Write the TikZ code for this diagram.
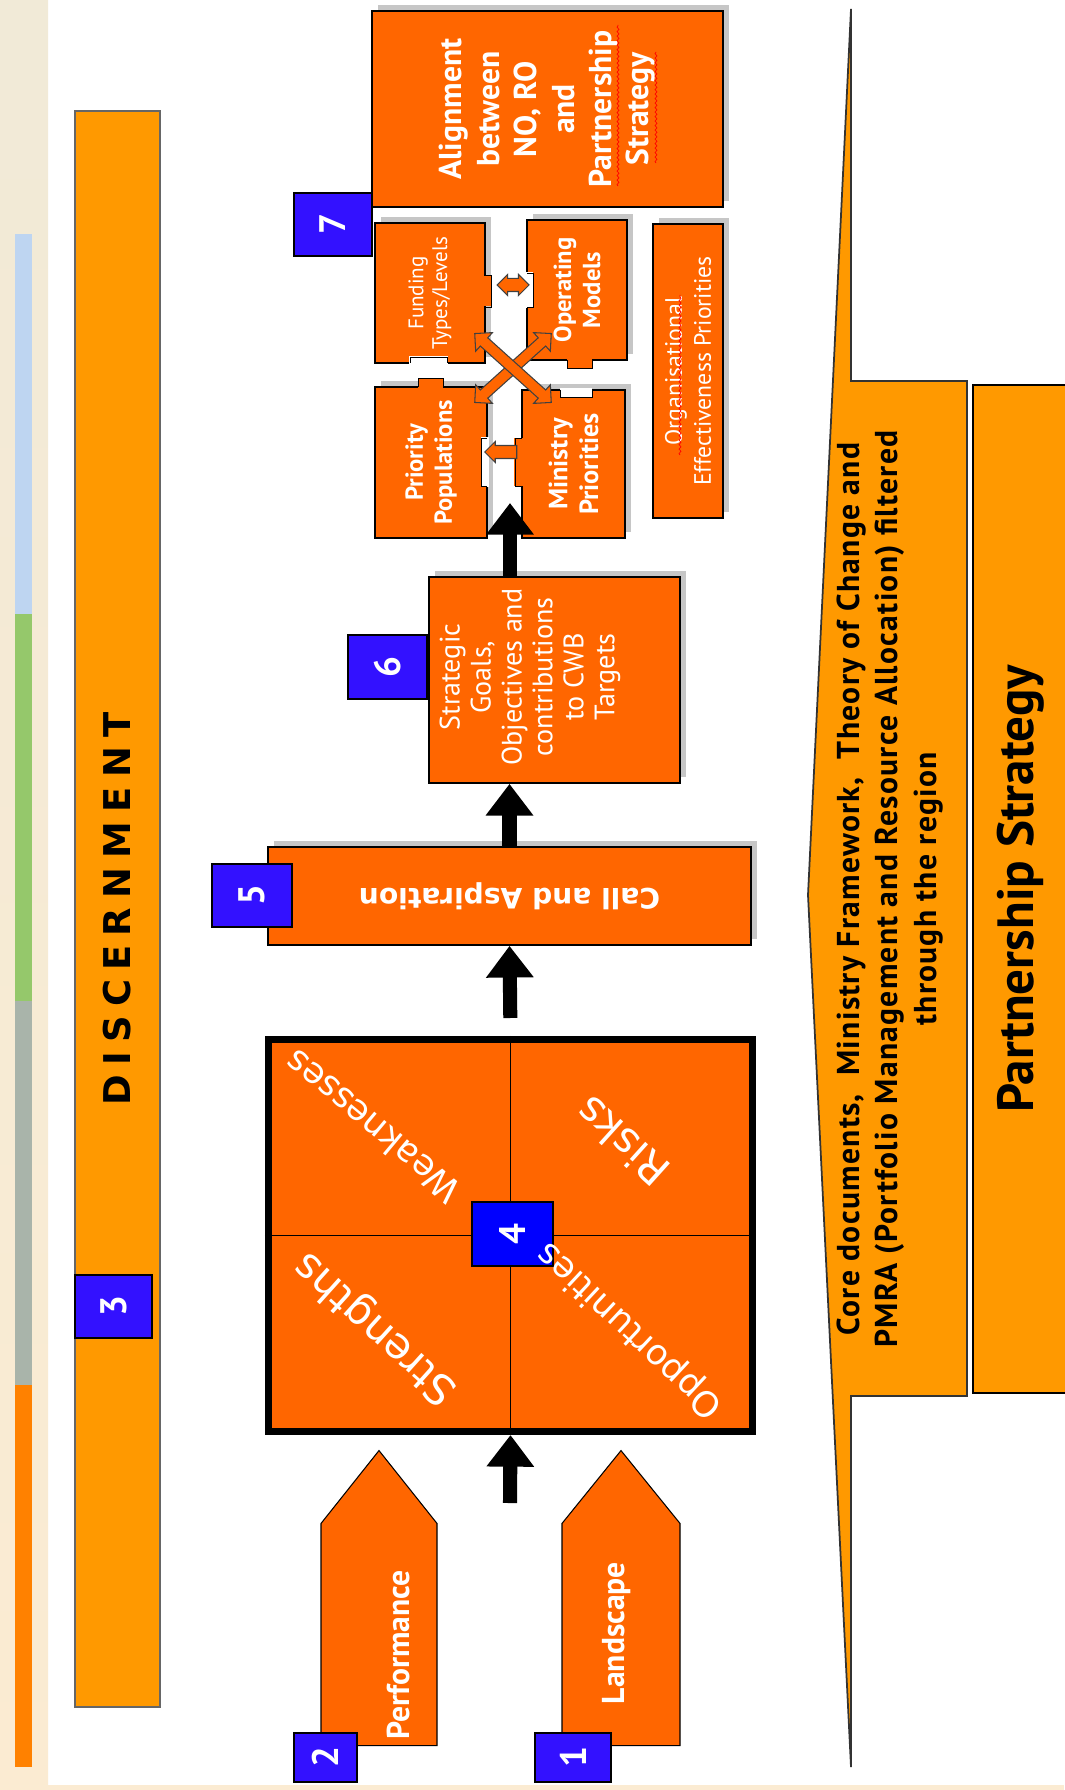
\documentclass[tikz,border=0pt]{standalone}
\usepackage{fontspec}
\setmainfont{PT Sans}
\newfontfamily\verafont{DejaVu Sans}
\newfontfamily\discernfont[LetterSpace=25]{DejaVu Sans}
\usetikzlibrary{arrows.meta,calc,positioning,shapes.symbols,shapes.arrows,shadows,decorations.pathmorphing}

\definecolor{stepOrange}{HTML}{FF6600}
\definecolor{bandOrange}{HTML}{FF9900}
\definecolor{tagBlue}{HTML}{3311FF}
\definecolor{swotBlue}{HTML}{0000FF}
\definecolor{paperTop}{HTML}{F1EAD7}
\definecolor{paperBot}{HTML}{FBEBD2}
\definecolor{barBlue}{HTML}{BED5F1}
\definecolor{barGreen}{HTML}{95C86B}
\definecolor{barGray}{HTML}{A9B4AA}
\definecolor{barOrange}{HTML}{FF8100}

\tikzset{
  sz/.style 2 args={minimum width=#1*0.02cm, minimum height=#2*0.02cm},
  stepbox/.style={draw=black, line width=1pt, fill=stepOrange, inner sep=0pt, text=white},
  boxshadow/.style={drop shadow={shadow xshift=0.12cm, shadow yshift=0.12cm, opacity=0.45}},
  band/.style={draw=black!60, line width=0.8pt, fill=bandOrange, inner sep=0pt, text=black},
  numtag/.style={draw=black, line width=0.8pt, fill=tagBlue, text=white, inner sep=0pt,
    rotate=90, font=\bfseries\fontsize{21}{21}\selectfont},
  inbox/.style={stepbox, shape=signal, signal to=east, line width=0.6pt, rotate=90},
  intext/.style={text=white, rotate=90, align=center},
  swottext/.style={text=white, font=\verafont\fontsize{20}{20}\selectfont},
  bigarrow/.style={line width=8pt, -{Triangle[width=26pt,length=18pt]}},
  piece/.style={stepbox, boxshadow, rotate=90, align=center},
  linkarrow/.style={draw=black!75, fill=stepOrange, line width=0.6pt, inner xsep=0pt},
  squiggle/.style={red, line width=0.4pt, decorate, decoration={snake, amplitude=0.02cm, segment length=0.09cm}}
}

\begin{document}
\begin{tikzpicture}[x=0.02cm, y=-0.02cm]
\useasboundingbox (0,0) rectangle (1064,1790);

% side strip
\shade[top color=paperTop, bottom color=paperBot] (0,0) rectangle (48,1790);
\fill[paperBot] (0,1785) rectangle (1064,1790);
\fill[barBlue] (15,234) rectangle (32,614);
\fill[barGreen] (15,614) rectangle (32,1001);
\fill[barGray] (15,1001) rectangle (32,1385);
\fill[barOrange] (15,1385) rectangle (32,1767);

% discernment band
\node[band, rotate=90, sz={1596}{85}, font=\discernfont\bfseries\fontsize{21}{21}\selectfont] (discern) at (117.5,909) {DISCERNMENT};
\node[numtag, sz={63}{77}] (t3) at (113.5,1306.5) {3};

% inputs
\node[inbox, sz={295}{116}, signal pointer angle=77] (perf) at (379,1634.5) {};
\node[inbox, sz={295}{118}, signal pointer angle=78] (land) at (621,1634.5) {};
\node[intext, font=\bfseries\fontsize{18}{18}\selectfont] (perf text) at (398,1655) {Performance};
\node[intext, font=\bfseries\fontsize{18}{18}\selectfont] (land text) at (617,1633) {Landscape};
\node[numtag, sz={49}{63}] (t2) at (325.5,1757.5) {2};
\node[numtag, sz={49}{76}] (t1) at (573,1757.5) {1};

% swot
\node[stepbox, line width=4pt, sz={484}{392}] (swot) at (510.5,1235.5) {};
\draw[line width=1pt] (swot.north) -- (swot.south) (swot.west) -- (swot.east);
\node[numtag, fill=swotBlue, sz={64}{81}] (t4) at (512.5,1234) {4};
\node[swottext, rotate=140] (weak) at (372,1127) {Weaknesses};
\node[swottext, rotate=138, font=\verafont\fontsize{24}{24}\selectfont] (stren) at (376,1328) {Strengths};
\node[swottext, rotate=138, font=\verafont\fontsize{24}{24}\selectfont] (risk) at (622,1142) {Risks};
\node[swottext, rotate=137] (opp) at (630,1330) {Opportunities};

% call and goals
\node[stepbox, boxshadow, rotate=180, sz={483}{98}, font=\verafont\bfseries\fontsize{16}{16}\selectfont] (call) at (509.5,896) {Call and Aspiration};
\node[numtag, sz={63}{80}] (t5) at (252,895.5) {5};
\node[stepbox, boxshadow, rotate=90, sz={206}{251}] (strat) at (554.5,680) {};
\node[intext, font=\fontsize{16}{17.6}\selectfont] (strat text) at (530,677) {Strategic\\Goals,\\Objectives and\\contributions\\to CWB\\Targets};
\node[numtag, sz={64}{79}] (t6) at (387.5,667) {6};

% puzzle
\node[piece, sz={140}{110}, font=\fontsize{12}{13.5}\selectfont] (fund) at (430,293) {Funding\\Types/Levels};
\node[piece, sz={140}{100}, font=\bfseries\fontsize{14}{16.5}\selectfont] (oper) at (577,290) {Operating\\Models};
\node[piece, sz={151}{112}, font=\bfseries\fontsize{14}{16.5}\selectfont] (prio) at (431,462.5) {Priority\\Populations};
\node[piece, sz={148}{103}, font=\bfseries\fontsize{15}{17.5}\selectfont] (mini) at (573.5,464) {Ministry\\Priorities};
\node[piece, sz={294}{70}, font=\fontsize{13.5}{16.5}\selectfont] (orgeff) at (688,371) {Organisational\\Effectiveness Priorities};
\node[piece, sz={196}{351}, font=\bfseries\fontsize{18}{21.3}\selectfont] (align) at (547.5,109) {Alignment\\between\\NO, RO\\and\\Partnership\\Strategy};
\node[numtag, sz={63}{78}] (t7) at (333,224.5) {7};

% tabs and notches
\fill[stepOrange] (482,276) rectangle (491,306);
\draw (485,275) -- (491,275) -- (491,307) -- (485,307);
\fill[white] (409,356) rectangle (448,365);
\draw (410,363) -- (410,357) -- (447,357) -- (447,363);
\fill[white] (525,272) rectangle (533,308);
\draw (527,273) -- (533,273) -- (533,307) -- (527,307);
\fill[stepOrange] (567,358) rectangle (592,368);
\draw (567,360) -- (567,368) -- (592,368) -- (592,360);
\fill[stepOrange] (418,378) rectangle (443,389);
\draw (418,387) -- (418,378) -- (443,378) -- (443,387);
\fill[white] (481,437) rectangle (489,487);
\draw (487,438) -- (481,438) -- (481,486) -- (487,486);
\fill[white] (560,388) rectangle (592,397);
\draw (560,390) -- (560,397) -- (592,397) -- (592,390);
\fill[stepOrange] (514,438) rectangle (524,486);
\draw (522,438) -- (515,438) -- (515,486) -- (522,486);

\node[linkarrow, double arrow, double arrow head extend=0.08cm, inner ysep=0.12cm, minimum height=0.64cm] (fo) at (513,285) {};
\node[linkarrow, single arrow, single arrow head extend=0.08cm, inner ysep=0.12cm, minimum height=0.64cm, rotate=180] (pm) at (504,452) {};
\node[linkarrow, double arrow, double arrow head extend=0.14cm, inner ysep=0.1cm, minimum height=2.06cm, rotate=42] (xa) at (513,368) {};
\node[linkarrow, double arrow, double arrow head extend=0.14cm, inner ysep=0.1cm, minimum height=2.06cm, rotate=-42] (xb) at (513,368) {};

% spell marks
\draw[squiggle] (618,186) -- (618,25);
\draw[squiggle] (656,163) -- (656,52);
\draw[squiggle] (680,455) -- (680,295);

% flow
\coordinate (a1) at (510,1503);
\coordinate (tip7) at (510,503);
\draw[bigarrow] (a1) -- (swot.south);
\draw[bigarrow, shorten <=0.36cm] (swot.north) -- (call.north);
\draw[bigarrow] (call.south) -- (call.south |- strat.west);
\draw[bigarrow] (strat.east -| tip7) -- (tip7);

% filter and strategy
\filldraw[fill=bandOrange, draw=black!80, line width=1pt] (851,9) -- (851,381) -- (967,381) -- (967,1396) -- (851,1396) -- (851,1767) -- (808,895) -- cycle;
\node[rotate=90, align=center, font=\bfseries\fontsize{18}{21.7}\selectfont\addfontfeature{LetterSpace=4}] (core) at (890,889) {Core documents,\ \ Ministry Framework,\ \ Theory of Change and\\PMRA (Portfolio Management and Resource Allocation) filtered\\through the region};
\node[band, draw=black, rotate=90, sz={1008}{95}, font=\bfseries\fontsize{29}{29}\selectfont] (pship) at (1020.5,889) {Partnership Strategy};
\end{tikzpicture}
\end{document}
